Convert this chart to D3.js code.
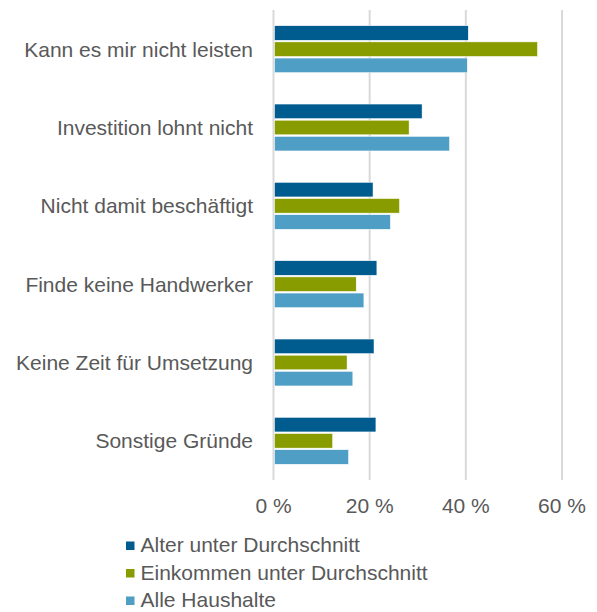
<!DOCTYPE html>
<html>
<head>
<meta charset="utf-8">
<script src="https://cdn.jsdelivr.net/npm/d3@7"></script>
<style>
  body { margin: 0; background: #fff; }
  text { font-family: "Liberation Sans", Arial, sans-serif; fill: #595959; }
</style>
</head>
<body>
<script>
// categories (top to bottom)
var categories = ["Kann es mir nicht leisten", "Investition lohnt nicht", "Nicht damit beschäftigt",
                  "Finde keine Handwerker", "Keine Zeit für Umsetzung", "Sonstige Gründe"];

var seriesNames = ["Alter unter Durchschnitt", "Einkommen unter Durchschnitt", "Alle Haushalte"];

// values in percent, per series
var alterValues     = [40.5, 30.9, 20.7, 21.5, 20.9, 21.3];
var einkommenValues = [54.9, 28.2, 26.2, 17.2, 15.3, 12.3];
var alleValues      = [40.3, 36.6, 24.3, 18.8, 16.5, 15.6];

var tickValues = [0, 20, 40, 60];

var colors = ["#005b8e", "#889c00", "#4f9ec6"];

var width = 597, height = 612;

var svg = d3.select("body").append("svg")
    .attr("width", width)
    .attr("height", height);

var x = d3.scaleLinear().domain([0, 60]).range([273.5, 562]);

var y = d3.scaleBand()
    .domain(categories)
    .range([10, 480])
    .paddingInner(0.36)
    .paddingOuter(0.18);

var ySub = d3.scaleBand()
    .domain(seriesNames)
    .range([0, y.bandwidth()])
    .padding(0.1);

// grid lines
svg.append("g")
  .selectAll("line")
  .data(tickValues)
  .enter().append("line")
    .attr("x1", function(d) { return x(d); })
    .attr("x2", function(d) { return x(d); })
    .attr("y1", 10)
    .attr("y2", 480)
    .attr("stroke", "#d9d9d9")
    .attr("stroke-width", 2);

// bars
var allSeries = [alterValues, einkommenValues, alleValues];
var rows = [];
categories.forEach(function(c, i) {
  seriesNames.forEach(function(s, j) {
    rows.push({ cat: c, series: s, value: allSeries[j][i], idx: j });
  });
});

svg.append("g")
  .selectAll("rect")
  .data(rows)
  .enter().append("rect")
    .attr("x", x(0) + 1)
    .attr("y", function(d) { return y(d.cat) + ySub(d.series); })
    .attr("width", function(d) { return x(d.value) - x(0) - 1; })
    .attr("height", ySub.bandwidth())
    .attr("fill", function(d) { return colors[d.idx]; })
    .attr("stroke", "#ffffff")
    .attr("stroke-width", 0.5);

// category labels
svg.append("g")
  .selectAll("text")
  .data(categories)
  .enter().append("text")
    .attr("x", 253)
    .attr("y", function(d) { return y(d) + y.bandwidth() / 2 + 7.5; })
    .attr("text-anchor", "end")
    .style("font-size", "21px")
    .text(function(d) { return d; });

// x tick labels
svg.append("g")
  .selectAll("text")
  .data(tickValues)
  .enter().append("text")
    .attr("x", function(d) { return x(d); })
    .attr("y", 513)
    .attr("text-anchor", "middle")
    .style("font-size", "21px")
    .text(function(d) { return d + " %"; });

// legend
var legend = svg.append("g")
  .selectAll("g")
  .data(seriesNames)
  .enter().append("g")
    .attr("transform", function(d, i) { return "translate(126," + (552 + i * 27.5) + ")"; });

legend.append("rect")
    .attr("x", 0)
    .attr("y", -10.5)
    .attr("width", 8.5)
    .attr("height", 8.5)
    .attr("fill", function(d, i) { return colors[i]; });

legend.append("text")
    .attr("x", 14.5)
    .attr("y", 0)
    .style("font-size", "21px")
    .text(function(d) { return d; });
</script>
</body>
</html>
